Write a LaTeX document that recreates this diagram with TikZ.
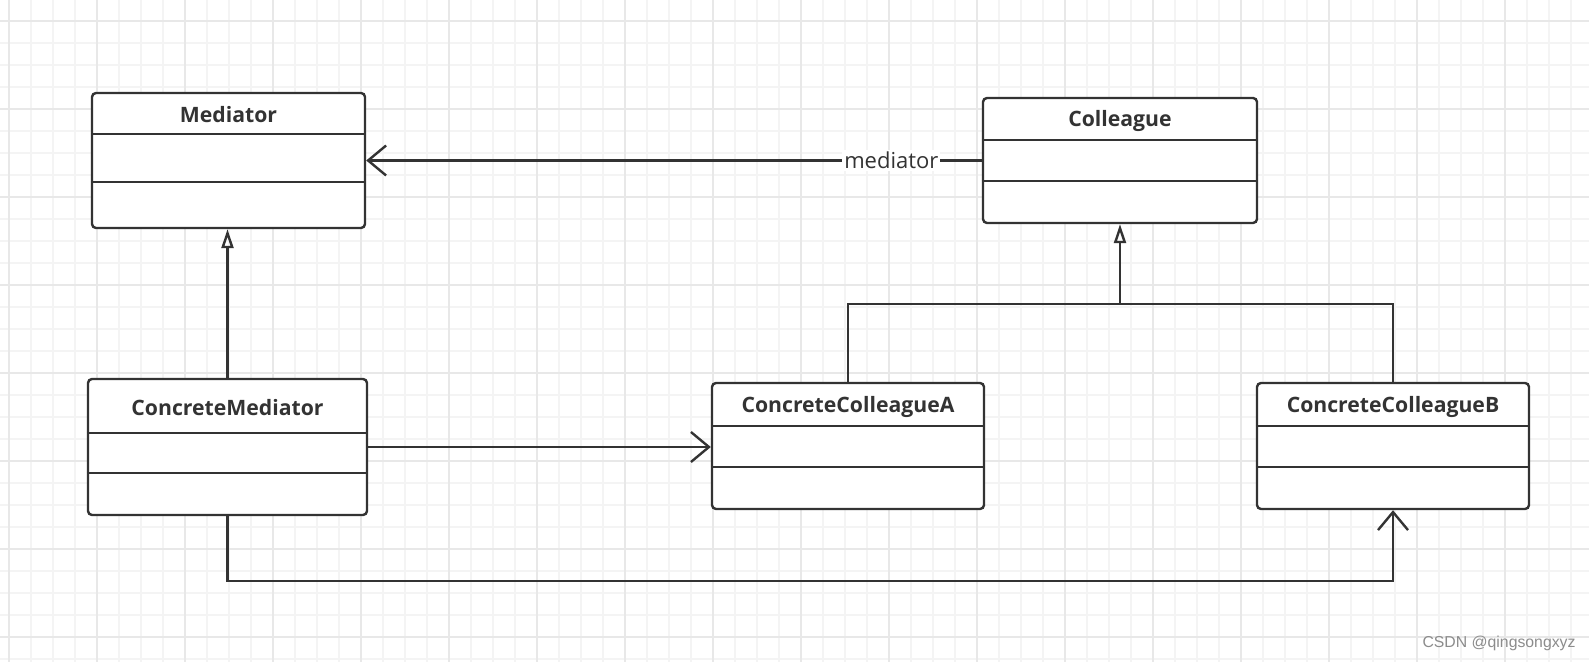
\documentclass[tikz,border=0pt]{standalone}
\usepackage{fontspec}
\setmainfont{Open Sans}
\newfontfamily\wmfont{Liberation Sans}
\usetikzlibrary{arrows.meta}
\usetikzlibrary{calc}
\usetikzlibrary{fit}
\definecolor{linegray}{HTML}{333333}
\definecolor{gridminor}{HTML}{F4F4F4}
\definecolor{gridmajor}{HTML}{E8E8E8}

\tikzset{
  classbox/.style={draw=linegray, line width=1.2pt, rounded corners=2pt, inner sep=0pt, fill=white},
  classtitle/.style={font=\fontsize{10.6}{12}\selectfont\bfseries, text=linegray},
  sepline/.style={draw=linegray, line width=1.2pt},
  assoc/.style={sepline, -{Straight Barb[length=9pt,width=15pt]}},
  inherit/.style={sepline, -{Triangle[open,length=9.5pt,width=6pt]}},
}

\begin{document}
\begin{tikzpicture}[x=0.5pt,y=-0.5pt]
\useasboundingbox (0,0) rectangle (1589,662);
\fill[white] (0,0) rectangle (1589,662);

% grid
\begin{scope}
\clip (0,0) rectangle (1589,662);
\foreach \gx in {9,31,...,1589} \draw[gridminor, line width=1pt] (\gx,0) -- (\gx,662);
\foreach \gy in {-1,21,...,662} \draw[gridminor, line width=1pt] (0,\gy) -- (1589,\gy);
\foreach \gx in {9,97,...,1589} \draw[gridmajor, line width=1pt] (\gx,0) -- (\gx,662);
\foreach \gy in {21,109,...,662} \draw[gridmajor, line width=1pt] (0,\gy) -- (1589,\gy);
\end{scope}

% classes
\node[classbox, fit={(92,93) (365,228)}] (med) {};
\node[classtitle] (med-title) at (med.north |- 0,115) {Mediator};
\draw[sepline] (med.west |- 0,134) -- (med.east |- 0,134);
\draw[sepline] (med.west |- 0,182) -- (med.east |- 0,182);

\node[classbox, fit={(983,98) (1257,223)}] (col) {};
\node[classtitle] (col-title) at (col.north |- 0,121) {Colleague};
\draw[sepline] (col.west |- 0,140) -- (col.east |- 0,140);
\draw[sepline] (col.west |- 0,181) -- (col.east |- 0,181);

\node[classbox, fit={(88,379) (367,515)}] (cmed) {};
\node[classtitle] (cmed-title) at (cmed.north |- 0,408) {ConcreteMediator};
\draw[sepline] (cmed.west |- 0,433) -- (cmed.east |- 0,433);
\draw[sepline] (cmed.west |- 0,473) -- (cmed.east |- 0,473);

\node[classbox, fit={(712,383) (984,509)}] (ccA) {};
\node[classtitle] (ccA-title) at (ccA.north |- 0,407) {ConcreteColleagueA};
\draw[sepline] (ccA.west |- 0,426) -- (ccA.east |- 0,426);
\draw[sepline] (ccA.west |- 0,467) -- (ccA.east |- 0,467);

\node[classbox, fit={(1257,383) (1529,509)}] (ccB) {};
\node[classtitle] (ccB-title) at (ccB.north |- 0,407) {ConcreteColleagueB};
\draw[sepline] (ccB.west |- 0,426) -- (ccB.east |- 0,426);
\draw[sepline] (ccB.west |- 0,467) -- (ccB.east |- 0,467);

% relations
\draw[inherit] (cmed.north) -- (cmed.north |- med.south);
\draw[assoc] (col.west) -- (med.east)
  node[pos=0.147, fill=white, inner sep=1pt, text=linegray, font=\fontsize{11}{13}\selectfont] (med-label) {mediator};
\draw[assoc] (cmed.east) -- (cmed.east -| ccA.west);

\coordinate (junction) at (col.south |- 0,304);
\draw[sepline] (ccA.north) |- (junction) -| (ccB.north);
\draw[inherit] (junction) -- (col.south);

\coordinate (bend) at (cmed.south |- 0,581);
\draw[assoc] (cmed.south) -- (bend) -| (ccB.south);

\node[text=black!45, font=\wmfont\fontsize{7.9}{9}\selectfont] (watermark) at (1499,643) {CSDN @qingsongxyz};
\end{tikzpicture}
\end{document}
